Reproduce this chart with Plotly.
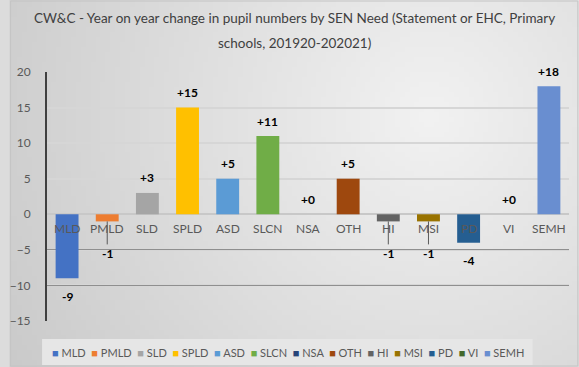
import base64
import math
import struct
import zlib

import plotly.graph_objects as go

categories = ["MLD", "PMLD", "SLD", "SPLD", "ASD", "SLCN", "NSA", "OTH", "HI", "MSI", "PD", "VI", "SEMH"]
values = [-9, -1, 3, 15, 5, 11, 0, 5, -1, -1, -4, 0, 18]
colors = ["#4472C4", "#ED7D31", "#A5A5A5", "#FFC000", "#5B9BD5", "#70AD47", "#264478",
          "#9E480E", "#636363", "#997300", "#255E91", "#43682B", "#698ED0"]
y_ticks = [-15, -10, -5, 0, 5, 10, 15, 20]
y_dark_grid = [-15, -10, -5]
title_lines = ["CW&C - Year on year change in pupil numbers by SEN Need (Statement or EHC, Primary",
               "schools, 201920-202021)"]

FONT = "Lato, Liberation Sans, sans-serif"
W, H = 579, 367
ML, MR, MT, MB = 38, 10, 72, 46
PW, PH = W - ML - MR, H - MT - MB


def gradient_png(w, h):
    rows = []
    for j in range(h):
        row = bytearray([0])
        for i in range(w):
            dx = (i / (w - 1)) * 1.0 - 0.74
            dy = (j / (h - 1)) * 0.634 - 0.2
            d = math.sqrt(dx * dx + dy * dy)
            v = int(max(200, min(242, 242 - 46 * d)))
            row += bytes([v, v, v])
        rows.append(bytes(row))
    raw = b"".join(rows)

    def chunk(tag, data):
        c = struct.pack(">I", len(data)) + tag + data
        return c + struct.pack(">I", zlib.crc32(tag + data) & 0xffffffff)

    png = b"\x89PNG\r\n\x1a\n" + chunk(b"IHDR", struct.pack(">IIBBBBB", w, h, 8, 2, 0, 0, 0))
    png += chunk(b"IDAT", zlib.compress(raw, 9)) + chunk(b"IEND", b"")
    return "data:image/png;base64," + base64.b64encode(png).decode()


fig = go.Figure()
for c, v, col in zip(categories, values, colors):
    fig.add_trace(go.Bar(x=[c], y=[v], name=c, marker=dict(color=col, line=dict(width=0)),
                         width=0.57, showlegend=False, hoverinfo="x+y"))
# invisible trace to activate the overlay axis carrying darker gridlines
fig.add_trace(go.Scatter(x=[categories[0]], y=[0], yaxis="y2", mode="markers",
                         marker=dict(opacity=0), showlegend=False, hoverinfo="skip"))

annotations = []
for c, v in zip(categories, values):
    annotations.append(dict(x=c, y=0, xref="x", yref="y", text=c, showarrow=False,
                            yanchor="middle", yshift=-14,
                            font=dict(family=FONT, size=12, color="#595959")))
    label = f"{v:+d}"
    if v >= 0:
        annotations.append(dict(x=c, y=v, xref="x", yref="y", text=f"<b>{label}</b>", showarrow=False,
                                yanchor="middle", yshift=15,
                                font=dict(family=FONT, size=12, color="#000000")))
    elif v > -2:
        annotations.append(dict(x=c, y=v, xref="x", yref="y", text=f"<b>{label}</b>", showarrow=True,
                                arrowhead=0, arrowwidth=1, arrowcolor="#595959", ax=0, ay=32,
                                font=dict(family=FONT, size=12, color="#000000")))
    else:
        annotations.append(dict(x=c, y=v, xref="x", yref="y", text=f"<b>{label}</b>", showarrow=False,
                                yanchor="middle", yshift=-18,
                                font=dict(family=FONT, size=12, color="#000000")))

center_x = (W / 2 - ML) / PW
for i, line in enumerate(title_lines):
    annotations.append(dict(x=center_x, y=1 + (MT - (18 + 25 * i)) / PH, xref="paper", yref="paper",
                            text=line, showarrow=False, xanchor="center", yanchor="middle",
                            font=dict(family=FONT, size=13.5, color="#404040")))

legend_text = "&nbsp;&nbsp;".join(
    f"<span style='color:{col}'>■</span> {c}" for c, col in zip(categories, colors))
annotations.append(dict(x=(283 - ML) / PW, y=-(352 - MT - PH) / PH, xref="paper", yref="paper",
                        text=legend_text, showarrow=False, xanchor="center", yanchor="middle",
                        font=dict(family=FONT, size=11, color="#595959")))

shapes = [
    dict(type="rect", xref="paper", yref="paper", x0=(33 - ML) / PW, x1=(532 - ML) / PW,
         y0=-(365 - MT - PH) / PH, y1=-(339 - MT - PH) / PH,
         fillcolor="#e6e6e6", line=dict(width=0), layer="below"),
    dict(type="rect", xref="paper", yref="paper", x0=-(ML - 1) / PW, x1=1 + (MR - 1) / PW,
         y0=-(MB - 1) / PH, y1=1 + (MT - 1) / PH,
         line=dict(color="#c4c4c4", width=1), fillcolor="rgba(0,0,0,0)", layer="below"),
]

images = [dict(source=gradient_png(116, 74), xref="paper", yref="paper",
               x=-ML / PW, y=1 + MT / PH, sizex=W / PW, sizey=H / PH,
               xanchor="left", yanchor="top", sizing="stretch", layer="below")]

fig.update_layout(
    width=W, height=H,
    margin=dict(l=ML, r=MR, t=MT, b=MB),
    paper_bgcolor="#dcdcdc",
    plot_bgcolor="rgba(0,0,0,0)",
    bargap=0.43,
    xaxis=dict(type="category", showticklabels=False, showgrid=False, zeroline=False,
               range=[-0.5, 12.5], showline=False),
    yaxis=dict(range=[-15, 20], tickvals=y_ticks, showgrid=True, gridcolor="#d6d6d6", gridwidth=1.5,
               zeroline=True, zerolinecolor="#c8c8c8", zerolinewidth=1.5,
               showline=True, linecolor="#404040", linewidth=2,
               ticks="outside", ticklen=12, tickcolor="rgba(0,0,0,0)",
               tickfont=dict(family=FONT, size=12, color="#595959")),
    yaxis2=dict(range=[-15, 20], overlaying="y", tickvals=y_dark_grid, showticklabels=False,
                showgrid=True, gridcolor="#8f8f8f", gridwidth=1, zeroline=False, showline=False,
                ticks=""),
    annotations=annotations,
    shapes=shapes,
    images=images,
    showlegend=False,
)

fig.write_html("out.html")
